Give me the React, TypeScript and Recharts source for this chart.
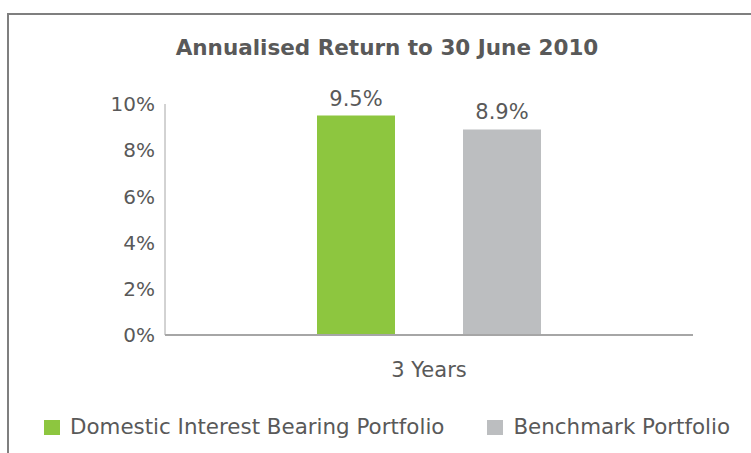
import React from 'react';
import { BarChart, Bar, XAxis, YAxis, Legend, LabelList } from 'recharts';

const categories = ['3 Years'];
const domesticReturns = [9.5];
const benchmarkReturns = [8.9];
const yTicks = [0, 2, 4, 6, 8, 10];

const data = categories.map((name, i) => ({
  name,
  domestic: domesticReturns[i],
  benchmark: benchmarkReturns[i],
}));

const font = 'Verdana, "DejaVu Sans", sans-serif';
const textColor = '#595959';

function renderLegend(props: any) {
  const { payload = [] } = props;
  return (
    <div style={{ display: 'flex', alignItems: 'center', height: 24, paddingLeft: 44, gap: 43 }}>
      {payload.map((entry: any) => (
        <div key={entry.value} style={{ display: 'flex', alignItems: 'center' }}>
          <span style={{ display: 'inline-block', width: 16, height: 15, background: entry.color, marginRight: 10 }} />
          <span style={{ fontSize: 21.4, lineHeight: '24px', color: textColor, fontFamily: font, whiteSpace: 'nowrap' }}>
            {entry.value}
          </span>
        </div>
      ))}
    </div>
  );
}

export default function App() {
  return (
    <div style={{ position: 'absolute', left: 0, top: 0, width: 751, height: 453, overflow: 'hidden', background: '#fff', fontFamily: font }}>
      <div
        style={{
          position: 'absolute',
          left: 7,
          top: 13,
          width: 780,
          height: 480,
          border: '2px solid #7f7f7f',
        }}
      />
      <div
        style={{
          position: 'absolute',
          left: 7,
          width: 760,
          top: 35,
          textAlign: 'center',
          fontSize: 21.5,
          fontWeight: 'bold',
          color: textColor,
          whiteSpace: 'nowrap',
        }}
      >
        Annualised Return to 30 June 2010
      </div>
      <div style={{ position: 'absolute', left: 0, top: 0 }}>
        <BarChart
          width={751}
          height={453}
          data={data}
          margin={{ top: 104, right: 58, left: 0, bottom: 0 }}
          barSize={78}
          barGap={68}
        >
          <XAxis
            dataKey="name"
            axisLine={{ stroke: '#a6a6a6', strokeWidth: 2 }}
            tickLine={false}
            tick={{ fontSize: 21, fill: textColor, fontFamily: font }}
            tickMargin={21}
            height={80}
          />
          <YAxis
            domain={[0, 10]}
            ticks={yTicks}
            tickFormatter={(v) => `${v}%`}
            axisLine={{ stroke: '#a6a6a6' }}
            tickLine={false}
            tick={{ fontSize: 20, fill: textColor, fontFamily: font }}
            tickMargin={4}
            width={165}
          />
          <Legend
            verticalAlign="bottom"
            align="left"
            height={38}
            itemSorter={(item: any) => (item.dataKey === 'domestic' ? 0 : 1)}
            content={renderLegend}
          />
          <Bar dataKey="domestic" name="Domestic Interest Bearing Portfolio" fill="#8dc63f" isAnimationActive={false}>
            <LabelList
              dataKey="domestic"
              position="top"
              offset={10}
              formatter={(v) => `${v}%`}
              style={{ fontSize: 21, fill: textColor, fontFamily: font }}
            />
          </Bar>
          <Bar dataKey="benchmark" name="Benchmark Portfolio" fill="#bcbec0" isAnimationActive={false}>
            <LabelList
              dataKey="benchmark"
              position="top"
              offset={10}
              formatter={(v) => `${v}%`}
              style={{ fontSize: 21, fill: textColor, fontFamily: font }}
            />
          </Bar>
        </BarChart>
      </div>
    </div>
  );
}
